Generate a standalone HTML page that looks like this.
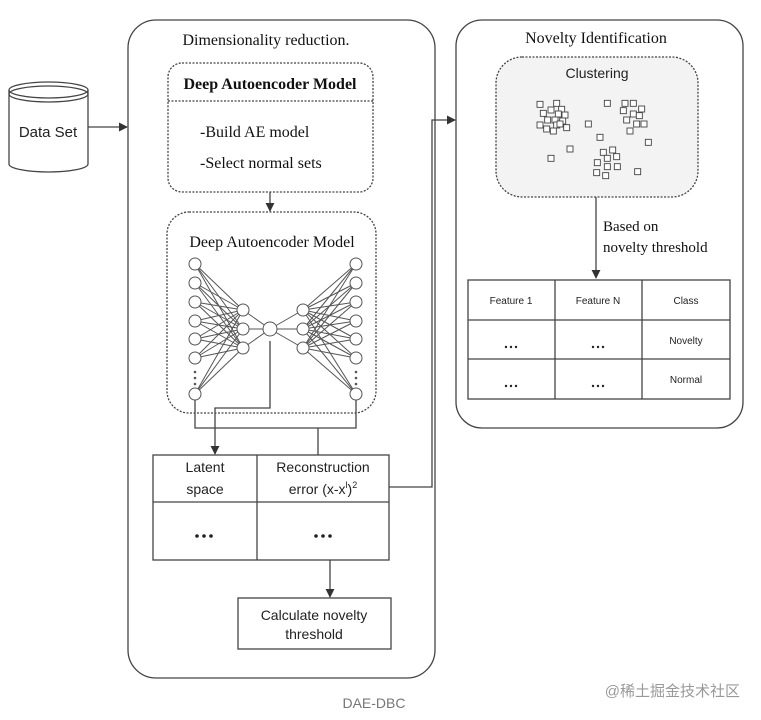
<!DOCTYPE html>
<html><head><meta charset="utf-8"><style>
html,body{margin:0;padding:0;background:#fff}
svg{display:block}
.s{font-family:"Liberation Serif",serif;fill:#111}
.a{font-family:"Liberation Sans",sans-serif;fill:#222}
</style></head><body>
<svg width="761" height="720" viewBox="0 0 761 720" xmlns="http://www.w3.org/2000/svg">
<defs><marker id="ar" viewBox="0 0 10 10" refX="9" refY="5" markerWidth="7" markerHeight="7" orient="auto"><path d="M0,0L10,5L0,10z" fill="#333"/></marker></defs>
<g stroke="#444" fill="none" stroke-width="1.3">
<rect x="128" y="20" width="307" height="658" rx="28"/>
<rect x="456" y="20" width="287" height="408" rx="26"/>
<path d="M9,90 L9,164 A39.5,8 0 0 0 88,164 L88,90" fill="#fff"/>
<ellipse cx="48.5" cy="90" rx="39.5" ry="8" fill="#fff"/>
<ellipse cx="48.5" cy="94" rx="39.5" ry="8"/>
<line x1="88" y1="127" x2="127" y2="127" marker-end="url(#ar)"/>
<rect x="168" y="63" width="205" height="129" rx="14" stroke-dasharray="2,1.5"/>
<line x1="168" y1="101" x2="373" y2="101" stroke-dasharray="2,1.5"/>
<line x1="270" y1="192" x2="270" y2="211" marker-end="url(#ar)"/>
<rect x="167" y="212" width="209" height="201" rx="22" stroke-dasharray="2,1.5"/>
<path d="M270,341 V408 H215 V454" marker-end="url(#ar)"/>
<path d="M195,400 V428 H356 V400"/>
<line x1="318" y1="428" x2="318" y2="455"/>
<rect x="153" y="455" width="236" height="105"/>
<line x1="153" y1="502" x2="389" y2="502"/>
<line x1="257" y1="455" x2="257" y2="560"/>
<line x1="330" y1="560" x2="330" y2="597" marker-end="url(#ar)"/>
<rect x="238" y="598" width="153" height="51"/>
<path d="M389,487 H432 V120 H455" marker-end="url(#ar)"/>
<rect x="496" y="57" width="202" height="140" rx="26" stroke-dasharray="2,1.5" fill="#f3f3f3"/>
<line x1="596" y1="197" x2="596" y2="278" marker-end="url(#ar)"/>
<rect x="468" y="280" width="262" height="119"/>
<line x1="468" y1="320" x2="730" y2="320"/>
<line x1="468" y1="359" x2="730" y2="359"/>
<line x1="555" y1="280" x2="555" y2="399"/>
<line x1="642" y1="280" x2="642" y2="399"/>
</g>
<g id="net" stroke="#555" stroke-width="1" fill="none"></g>
<g id="cl" stroke="#444" stroke-width="0.9" fill="#fff"></g>
<g fill="#222">
<circle cx="197" cy="536" r="1.8"/><circle cx="204" cy="536" r="1.8"/><circle cx="211" cy="536" r="1.8"/>
<circle cx="316" cy="536" r="1.8"/><circle cx="323" cy="536" r="1.8"/><circle cx="330" cy="536" r="1.8"/>
<circle cx="506" cy="347" r="1.2"/><circle cx="511" cy="347" r="1.2"/><circle cx="516" cy="347" r="1.2"/>
<circle cx="593" cy="347" r="1.2"/><circle cx="598" cy="347" r="1.2"/><circle cx="603" cy="347" r="1.2"/>
<circle cx="506" cy="386" r="1.2"/><circle cx="511" cy="386" r="1.2"/><circle cx="516" cy="386" r="1.2"/>
<circle cx="593" cy="386" r="1.2"/><circle cx="598" cy="386" r="1.2"/><circle cx="603" cy="386" r="1.2"/>
</g>
<text x="266" y="45" class="s" font-size="16" text-anchor="middle">Dimensionality reduction.</text>
<text x="270" y="89" class="s" font-size="16" font-weight="bold" text-anchor="middle">Deep Autoencoder Model</text>
<text x="200" y="137" class="s" font-size="16">-Build AE model</text>
<text x="200" y="168" class="s" font-size="16">-Select normal sets</text>
<text x="272" y="247" class="s" font-size="16" text-anchor="middle">Deep Autoencoder Model</text>
<text x="48" y="137" class="a" font-size="15" text-anchor="middle">Data Set</text>
<text x="205" y="472" class="a" font-size="14" text-anchor="middle">Latent</text>
<text x="205" y="494" class="a" font-size="14" text-anchor="middle">space</text>
<text x="323" y="472" class="a" font-size="14" text-anchor="middle">Reconstruction</text>
<text x="323" y="494" class="a" font-size="14" text-anchor="middle">error (x-x<tspan font-size="9" dy="-6">l</tspan><tspan dy="6">)</tspan><tspan font-size="9" dy="-6">2</tspan></text>
<text x="314" y="620" class="a" font-size="14" text-anchor="middle">Calculate novelty</text>
<text x="314" y="639" class="a" font-size="14" text-anchor="middle">threshold</text>
<text x="596" y="43" class="s" font-size="16" text-anchor="middle">Novelty Identification</text>
<text x="597" y="78" class="a" font-size="14" text-anchor="middle">Clustering</text>
<text x="603" y="231" class="s" font-size="15">Based on</text>
<text x="603" y="252" class="s" font-size="15">novelty threshold</text>
<text x="511" y="304" class="a" font-size="10" text-anchor="middle">Feature 1</text>
<text x="598" y="304" class="a" font-size="10" text-anchor="middle">Feature N</text>
<text x="686" y="304" class="a" font-size="10" text-anchor="middle">Class</text>
<text x="686" y="344" class="a" font-size="10" text-anchor="middle">Novelty</text>
<text x="686" y="383" class="a" font-size="10" text-anchor="middle">Normal</text>
<text x="374" y="708" font-family="Liberation Sans,sans-serif" font-size="14" fill="#777" text-anchor="middle">DAE-DBC</text>
<text x="740" y="696" font-family="Liberation Sans,'Noto Sans CJK SC',sans-serif" font-size="15" fill="#999" text-anchor="end">@稀土掘金技术社区</text>
</svg>
<script>
var ns="http://www.w3.org/2000/svg";
function el(p,t,a){var e=document.createElementNS(ns,t);for(var k in a)e.setAttribute(k,a[k]);p.appendChild(e);}
var net=document.getElementById('net');
var L=[264,283,302,321,339,358,394],H=[310,329,348];
var lx=195,hx=243,cx=270,rx=303,ox=356;
L.forEach(function(y){H.forEach(function(h){el(net,'line',{x1:lx,y1:y,x2:hx,y2:h});el(net,'line',{x1:ox,y1:y,x2:rx,y2:h});});});
H.forEach(function(h){el(net,'line',{x1:hx,y1:h,x2:cx,y2:329});el(net,'line',{x1:rx,y1:h,x2:cx,y2:329});});
L.forEach(function(y){el(net,'circle',{cx:lx,cy:y,r:6,fill:'#fff'});el(net,'circle',{cx:ox,cy:y,r:6,fill:'#fff'});});
H.forEach(function(h){el(net,'circle',{cx:hx,cy:h,r:6,fill:'#fff'});el(net,'circle',{cx:rx,cy:h,r:6,fill:'#fff'});});
el(net,'circle',{cx:cx,cy:329,r:7,fill:'#fff'});
[lx,ox].forEach(function(x){[372,378,384].forEach(function(y){el(net,'circle',{cx:x,cy:y,r:0.8,fill:'#555'});});});
var P=[[150,163],[200,160],[183,180],[215,178],[160,190],[205,192],[225,195],[173,210],[195,210],[218,213],[150,225],[170,237],[190,243],[200,225],[230,233],[210,222],[295,222],[352,160],[405,160],[430,160],[400,182],[455,177],[430,192],[448,197],[410,210],[440,222],[462,222],[420,243],[330,262],[475,277],[240,297],[183,325],[340,307],[368,300],[352,325],[380,320],[322,338],[352,350],[382,350],[320,368],[347,377],[443,365]];
var cl=document.getElementById('cl');
P.forEach(function(p){el(cl,'rect',{x:490+p[0]/3-3,y:50+p[1]/3-3,width:6,height:6});});
</script>
</body></html>
